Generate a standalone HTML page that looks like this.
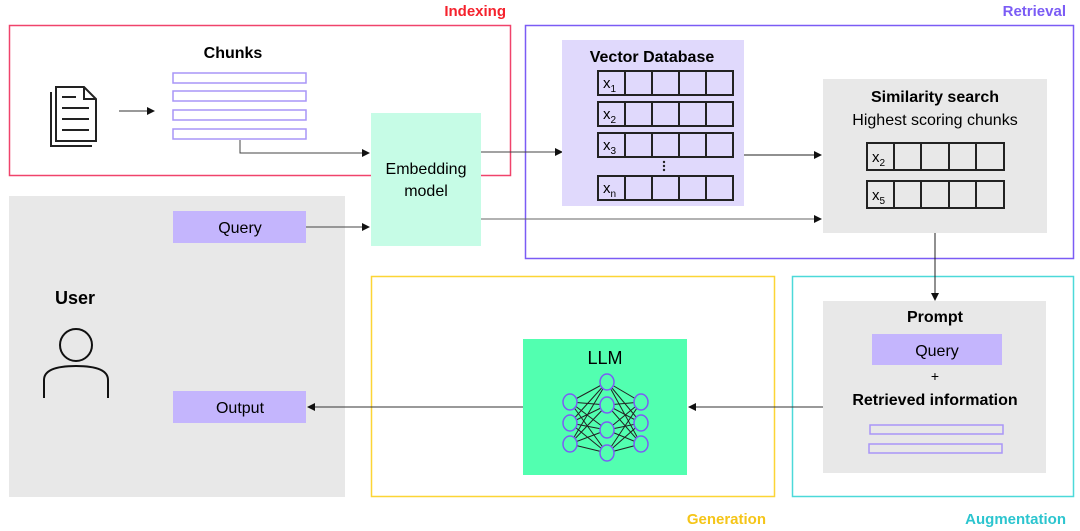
<!DOCTYPE html>
<html><head><meta charset="utf-8"><style>
html,body{margin:0;padding:0;background:#fff;}
svg{display:block;font-family:"Liberation Sans",sans-serif;}
</style></head><body>
<svg width="1080" height="531" viewBox="0 0 1080 531" xmlns="http://www.w3.org/2000/svg">
<defs>
<marker id="a" markerWidth="8" markerHeight="8" refX="7" refY="4" orient="auto" markerUnits="userSpaceOnUse">
<path d="M0,0 L8,4 L0,8 z" fill="#111"/></marker>
</defs>
<!-- User panel -->
<rect x="9" y="196" width="336" height="301" fill="#e8e8e8"/>
<!-- Indexing -->
<rect x="9.5" y="25.5" width="501" height="150" fill="none" stroke="#f0436b" stroke-width="1.5"/>
<text x="506" y="16" text-anchor="end" font-size="15" font-weight="bold" fill="#f5222d">Indexing</text>
<!-- Retrieval -->
<rect x="525.5" y="25.5" width="548" height="233" fill="none" stroke="#7b5cf5" stroke-width="1.5"/>
<text x="1066" y="16" text-anchor="end" font-size="15" font-weight="bold" fill="#7b5cf5">Retrieval</text>
<!-- Generation -->
<rect x="371.5" y="276.5" width="403" height="220" fill="none" stroke="#fcd535" stroke-width="1.5"/>
<text x="766" y="524" text-anchor="end" font-size="15" font-weight="bold" fill="#f5c518">Generation</text>
<!-- Augmentation -->
<rect x="792.5" y="276.5" width="281" height="220" fill="none" stroke="#4dd9d9" stroke-width="1.5"/>
<text x="1066" y="524" text-anchor="end" font-size="15" font-weight="bold" fill="#2cc5cf">Augmentation</text>

<!-- doc icon -->
<g fill="none" stroke="#222" stroke-width="2">
<path d="M51,92 L51,146 L92,146"/>
<path d="M56,87 L84,87 L96,99 L96,141 L56,141 z" fill="#fff"/>
<path d="M84,87 L84,99 L96,99"/>
<line x1="62" y1="97" x2="76" y2="97"/><line x1="62" y1="108" x2="89" y2="108"/>
<line x1="62" y1="119" x2="89" y2="119"/><line x1="62" y1="130" x2="89" y2="130"/>
</g>
<line x1="119" y1="111" x2="154" y2="111" stroke="#333" marker-end="url(#a)"/>
<text x="233" y="58" text-anchor="middle" font-size="16" font-weight="bold">Chunks</text>
<g fill="#fff" stroke="#a996f7" stroke-width="1.5">
<rect x="173" y="73" width="133" height="10"/><rect x="173" y="91" width="133" height="10"/>
<rect x="173" y="110" width="133" height="10"/><rect x="173" y="129" width="133" height="10"/>
</g>
<path d="M240,140 L240,153 L369,153" fill="none" stroke="#444" marker-end="url(#a)"/>

<!-- Embedding -->
<rect x="371" y="113" width="110" height="133" fill="#c6fce6"/>
<text x="426" y="174" text-anchor="middle" font-size="16">Embedding</text>
<text x="426" y="196" text-anchor="middle" font-size="16">model</text>
<line x1="481" y1="152" x2="562" y2="152" stroke="#444" marker-end="url(#a)"/>

<!-- Query -->
<rect x="173" y="211" width="133" height="32" fill="#c4b5fd"/>
<text x="240" y="233" text-anchor="middle" font-size="16">Query</text>
<line x1="306" y1="227" x2="369" y2="227" stroke="#444" marker-end="url(#a)"/>
<line x1="481" y1="219" x2="821" y2="219" stroke="#666" marker-end="url(#a)"/>

<!-- Vector DB -->
<rect x="562" y="40" width="182" height="166" fill="#e0d9fc"/>
<text x="652" y="62" text-anchor="middle" font-size="16" font-weight="bold">Vector Database</text>
<g fill="none" stroke="#222" stroke-width="2">
<rect x="598" y="71" width="135" height="24"/><rect x="598" y="102" width="135" height="24"/>
<rect x="598" y="133" width="135" height="24"/><rect x="598" y="176" width="135" height="24"/>
<path d="M625,71V95M652,71V95M679,71V95M706,71V95 M625,102V126M652,102V126M679,102V126M706,102V126 M625,133V157M652,133V157M679,133V157M706,133V157 M625,176V200M652,176V200M679,176V200M706,176V200"/>
</g>
<g font-size="15"><text x="603" y="88">x<tspan font-size="10" dy="4">1</tspan></text>
<text x="603" y="119">x<tspan font-size="10" dy="4">2</tspan></text>
<text x="603" y="150">x<tspan font-size="10" dy="4">3</tspan></text>
<text x="603" y="193">x<tspan font-size="10" dy="4">n</tspan></text></g>
<g fill="#222"><circle cx="664" cy="162" r="1.2"/><circle cx="664" cy="166" r="1.2"/><circle cx="664" cy="170" r="1.2"/></g>
<line x1="744" y1="155" x2="821" y2="155" stroke="#222" marker-end="url(#a)"/>

<!-- Similarity -->
<rect x="823" y="79" width="224" height="154" fill="#e8e8e8"/>
<text x="935" y="102" text-anchor="middle" font-size="16" font-weight="bold">Similarity search</text>
<text x="935" y="125" text-anchor="middle" font-size="16">Highest scoring chunks</text>
<g fill="none" stroke="#222" stroke-width="2">
<rect x="867" y="143" width="137" height="27"/><rect x="867" y="181" width="137" height="27"/>
<path d="M894,143V170M921,143V170M949,143V170M976,143V170 M894,181V208M921,181V208M949,181V208M976,181V208"/>
</g>
<g font-size="15"><text x="872" y="162">x<tspan font-size="10" dy="4">2</tspan></text>
<text x="872" y="200">x<tspan font-size="10" dy="4">5</tspan></text></g>
<line x1="935" y1="233" x2="935" y2="300" stroke="#222" marker-end="url(#a)"/>

<!-- Prompt -->
<rect x="823" y="301" width="223" height="172" fill="#e8e8e8"/>
<text x="935" y="322" text-anchor="middle" font-size="16" font-weight="bold">Prompt</text>
<rect x="872" y="334" width="130" height="31" fill="#c4b5fd"/>
<text x="937" y="356" text-anchor="middle" font-size="16">Query</text>
<text x="935" y="381" text-anchor="middle" font-size="14">+</text>
<text x="935" y="405" text-anchor="middle" font-size="16" font-weight="bold">Retrieved information</text>
<g fill="none" stroke="#a996f7" stroke-width="1.5"><rect x="870" y="425" width="133" height="9"/><rect x="869" y="444" width="133" height="9"/></g>
<line x1="823" y1="407" x2="689" y2="407" stroke="#333" marker-end="url(#a)"/>

<!-- LLM -->
<rect x="523" y="339" width="164" height="136" fill="#52ffb0"/>
<text x="605" y="364" text-anchor="middle" font-size="18">LLM</text>
<g stroke="#222" stroke-width="1">
<path d="M570,402L607,382M570,402L607,405M570,402L607,430M570,402L607,453M570,423L607,382M570,423L607,405M570,423L607,430M570,423L607,453M570,444L607,382M570,444L607,405M570,444L607,430M570,444L607,453 M641,402L607,382M641,402L607,405M641,402L607,430M641,402L607,453M641,423L607,382M641,423L607,405M641,423L607,430M641,423L607,453M641,444L607,382M641,444L607,405M641,444L607,430M641,444L607,453"/>
</g>
<g fill="#52ffb0" stroke="#7b5cf5" stroke-width="1.5">
<ellipse cx="570" cy="402" rx="7" ry="8"/><ellipse cx="570" cy="423" rx="7" ry="8"/><ellipse cx="570" cy="444" rx="7" ry="8"/>
<ellipse cx="607" cy="382" rx="7" ry="8"/><ellipse cx="607" cy="405" rx="7" ry="8"/><ellipse cx="607" cy="430" rx="7" ry="8"/><ellipse cx="607" cy="453" rx="7" ry="8"/>
<ellipse cx="641" cy="402" rx="7" ry="8"/><ellipse cx="641" cy="423" rx="7" ry="8"/><ellipse cx="641" cy="444" rx="7" ry="8"/>
</g>
<line x1="523" y1="407" x2="308" y2="407" stroke="#333" marker-end="url(#a)"/>

<!-- User -->
<text x="75" y="304" text-anchor="middle" font-size="18" font-weight="bold">User</text>
<g fill="none" stroke="#111" stroke-width="2">
<circle cx="76" cy="345" r="16"/>
<path d="M44,398 L44,380 Q44,366 76,366 Q108,366 108,380 L108,398"/>
</g>
<rect x="173" y="391" width="133" height="32" fill="#c4b5fd"/>
<text x="240" y="413" text-anchor="middle" font-size="16">Output</text>
</svg>
</body></html>
